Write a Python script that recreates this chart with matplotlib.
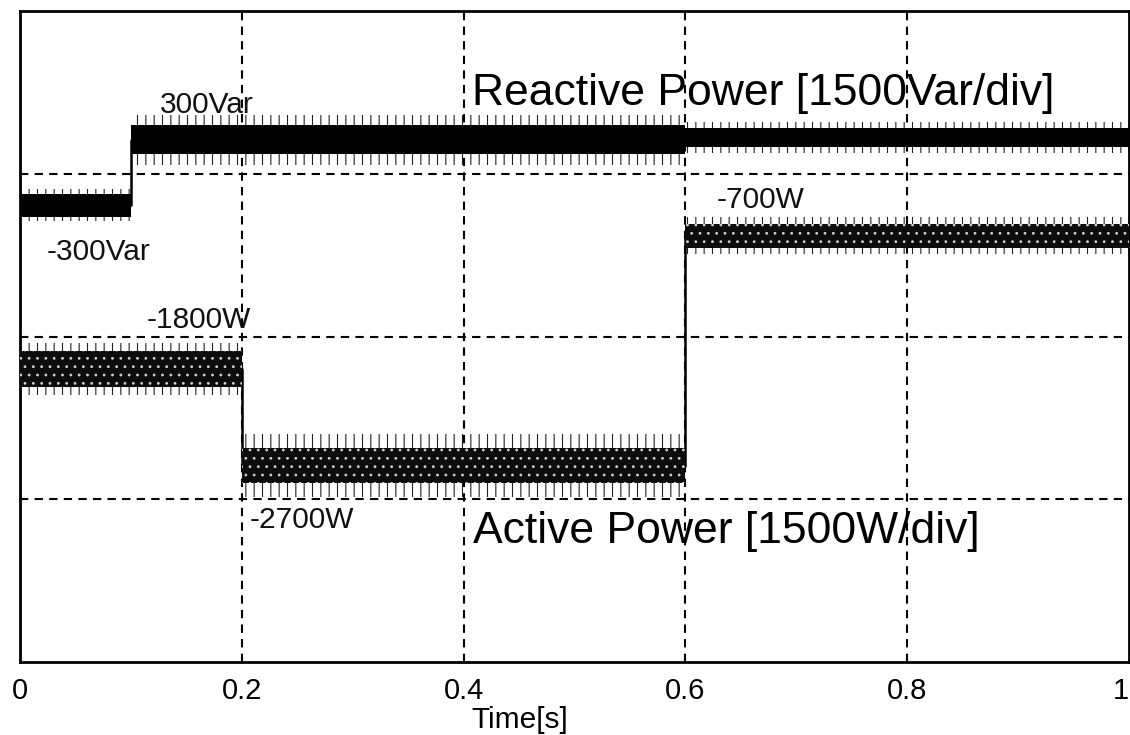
import matplotlib
matplotlib.use("Agg")
import matplotlib.pyplot as plt
import numpy as np

# Scope trace.  Levels in W / Var, 1500 per division.
VAR_PER_DIV = 1500
W_PER_DIV = 1500

# Reactive power: segment edges [s], level, half width of the dense noise
# band and reach of the spikes for each segment
reactive_edges = [0.0, 0.1, 0.6, 1.0]
reactive_level = [-290, 315, 335]
reactive_spread = [105, 135, 85]
reactive_spikes = [150, 230, 140]

# Active power
active_edges = [0.0, 0.2, 0.6, 1.0]
active_level = [-1800, -2690, -570]
active_spread = [165, 160, 110]
active_spikes = [240, 290, 170]

time_ticks = [0, 0.2, 0.4, 0.6, 0.8, 1]
time_labels = ["0", "0.2", "0.4", "0.6", "0.8", "1"]

# (text, time, division)
level_notes = [
  ("300Var", 0.126, 3.42),
  ("-300Var", 0.024, 2.52),
  ("-1800W", 0.1145, 2.10),
  ("-2700W", 0.207, 0.87),
  ("-700W", 0.6285, 2.84),
]

plt.rcParams["font.family"] = ["Liberation Sans", "DejaVu Sans"]
plt.rcParams["hatch.linewidth"] = 0.8

fig = plt.figure(figsize=(11.3, 7.35), dpi=100)
ax = fig.add_axes([20 / 1130, 73 / 735, 1109 / 1130, 651 / 735])

ZERO_DIV = 3  # both traces have their zero on the third grid line


def _to_div(values, per_div):
  return ZERO_DIV + np.asarray(values, dtype=float) / per_div


def _extend(values, per_div):
  return np.asarray(list(values) + [values[-1]], dtype=float) / per_div


def _draw_trace(edges, level, spread, spikes, per_div, **band_kw):
  lvl = _to_div(list(level) + [level[-1]], per_div)
  spr = _extend(spread, per_div)
  spk = _extend(spikes, per_div)
  # thin spikes around the band
  ax.fill_between(edges, lvl - spk, lvl + spk, step="post", linewidth=0,
                  facecolor="none", edgecolor="#222222", hatch="||",
                  zorder=2)
  ax.fill_between(edges, lvl - spr, lvl + spr, step="post", linewidth=0,
                  zorder=3, **band_kw)
  # the jumps between levels
  ax.step(edges, lvl, where="post", color="black", linewidth=1.8, zorder=2)


_draw_trace(reactive_edges, reactive_level, reactive_spread, reactive_spikes,
            VAR_PER_DIV, facecolor="black")
_draw_trace(active_edges, active_level, active_spread, active_spikes,
            W_PER_DIV, facecolor="#0d0d0d", edgecolor="#cfcfcf", hatch="..")

ax.set_xlim(0, 1)
ax.set_ylim(0, 4)
ax.set_xticks(time_ticks)
ax.set_xticklabels(time_labels)
ax.get_xticklabels()[-1].set_horizontalalignment("right")
ax.set_yticks([])
ax.tick_params(axis="x", length=0, pad=11, labelsize=21)
for x in time_ticks[1:-1]:
  ax.axvline(x, color="black", linewidth=1.5, linestyle=(0, (4, 3)),
             zorder=1)
for y in [1, 2, 3]:
  ax.axhline(y, color="black", linewidth=1.5, linestyle=(0, (4, 3)),
             zorder=1)
for spine in ax.spines.values():
  spine.set_linewidth(2)

for text, t, d in level_notes:
  ax.text(t, d, text, fontsize=21.5, va="center", ha="left", color="#111111",
          zorder=4)

ax.text(0.4076, 3.42, "Reactive Power [1500Var/div]", fontsize=32,
        va="baseline", ha="left", zorder=4)
ax.text(0.4085, 0.73, "Active Power [1500W/div]", fontsize=32,
        va="baseline", ha="left", zorder=4)

fig.text(520 / 1130, 15 / 735, "Time[s]", fontsize=21.5, ha="center",
         va="center")

fig.savefig("out.png", dpi=100)
